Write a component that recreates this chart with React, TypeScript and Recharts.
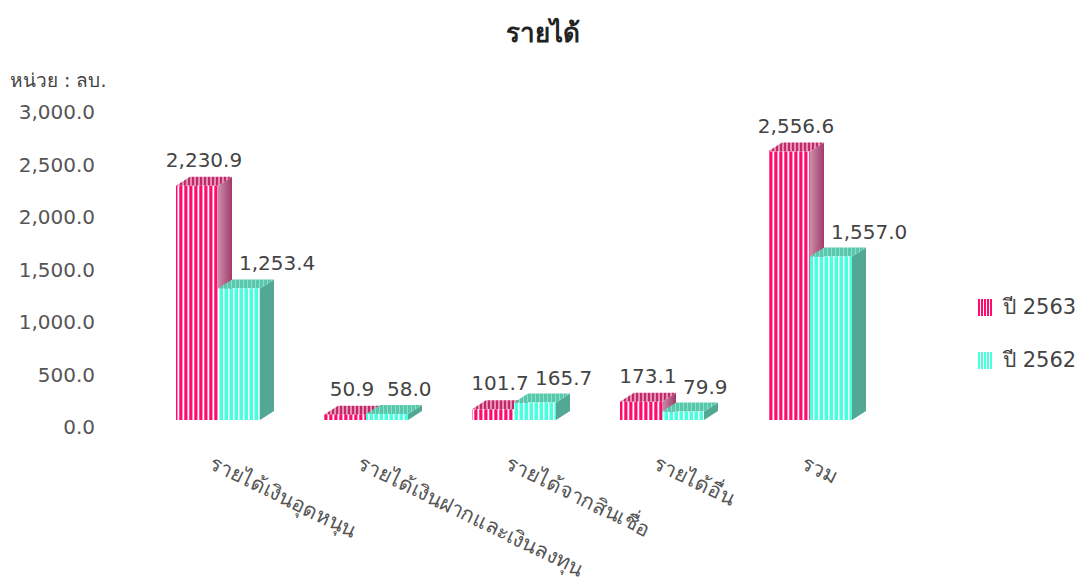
import React from "react";
import { BarChart, Bar, XAxis, YAxis, LabelList } from "recharts";

const categories = [
  "รายได้เงินอุดหนุน",
  "รายได้เงินฝากและเงินลงทุน",
  "รายได้จากสินเชื่อ",
  "รายได้อื่น",
  "รวม",
];
const year2563 = [2230.9, 50.9, 101.7, 173.1, 2556.6];
const year2562 = [1253.4, 58.0, 165.7, 79.9, 1557.0];
const yTicks = [0, 500, 1000, 1500, 2000, 2500, 3000];

const data = categories.map((name, i) => ({
  name,
  y2563: year2563[i],
  y2562: year2562[i],
}));

const FONT = "'DejaVu Sans', Tahoma, Verdana, sans-serif";
const fmt = (v: number) =>
  v.toLocaleString("en-US", { minimumFractionDigits: 1, maximumFractionDigits: 1 });

const DX = 14;
const DY = 9;

function make3D(front: string, top: string, side: string) {
  return (props: any) => {
    const { x, y, width, height } = props;
    return (
      <g>
        <path
          d={`M${x + width},${y} L${x + width + DX},${y - DY} L${x + width + DX},${y + height - DY} L${x + width},${y + height} Z`}
          fill={side}
        />
        <path
          d={`M${x},${y} L${x + DX},${y - DY} L${x + width + DX},${y - DY} L${x + width},${y} Z`}
          fill={top}
        />
        <rect x={x} y={y} width={width} height={height} fill={front} />
      </g>
    );
  };
}

const pinkShape = make3D("url(#pinkFront)", "url(#pinkTop)", "url(#pinkSide)");
const cyanShape = make3D("url(#cyanFront)", "url(#cyanTop)", "#52a894");

const YTick = ({ y, payload }: any) => (
  <text x={95} y={y + 7} textAnchor="end" dominantBaseline="central" fill="#555" fontSize={20} fontFamily={FONT}>
    {fmt(payload.value)}
  </text>
);

const XTick = ({ x, y, payload }: any) => (
  <g transform={`translate(${x - 10},${y + 40})`}>
    <text transform="rotate(26)" textAnchor="start" fill="#555" fontSize={21} fontFamily={FONT}>
      {payload.value}
    </text>
  </g>
);

const pinkLabel = (p: any) => (
  <text x={p.x + p.width / 2 + 7} y={p.y - 19} textAnchor="middle" fill="#444" fontSize={20} fontFamily={FONT}>
    {fmt(p.value)}
  </text>
);
const cyanLabel = (p: any) => (
  <text x={p.x + p.width / 2} y={p.y - 18} textAnchor="start" fill="#444" fontSize={20} fontFamily={FONT}>
    {fmt(p.value)}
  </text>
);

const stripe = (a: string, b: string) =>
  `repeating-linear-gradient(90deg, ${a} 0px, ${a} 2px, ${b} 2px, ${b} 3px)`;

export default function App() {
  return (
    <div style={{ position: "absolute", left: 0, top: 0, width: 1086, height: 581, background: "#fff", fontFamily: FONT }}>
      <div style={{ position: "absolute", left: 0, width: 1086, top: 12, textAlign: "center", fontSize: 26, fontWeight: "bold", color: "#222" }}>
        รายได้
      </div>
      <div style={{ position: "absolute", left: 10, top: 65, fontSize: 19, color: "#444" }}>หน่วย : ลบ.</div>

      <BarChart
        width={1086}
        height={581}
        data={data}
        margin={{ top: 105, right: 202, left: 0, bottom: 131 }}
        barSize={42}
        barGap={0}
      >
        <defs>
          <pattern id="pinkFront" patternUnits="userSpaceOnUse" width="5" height="10">
            <rect x="0" y="0" width="2" height="10" fill="#ff0a6e" />
            <rect x="2" y="0" width="1" height="10" fill="#ff8fbd" />
            <rect x="3" y="0" width="1" height="10" fill="#ffffff" />
            <rect x="4" y="0" width="1" height="10" fill="#ff4d92" />
          </pattern>
          <pattern id="cyanFront" patternUnits="userSpaceOnUse" width="5" height="10">
            <rect x="0" y="0" width="3" height="10" fill="#48ffe0" />
            <rect x="3" y="0" width="1" height="10" fill="#ffffff" />
            <rect x="4" y="0" width="1" height="10" fill="#9ffff0" />
          </pattern>
          <pattern id="pinkTop" patternUnits="userSpaceOnUse" width="4" height="10">
            <rect x="0" y="0" width="2" height="10" fill="#c02a68" />
            <rect x="2" y="0" width="2" height="10" fill="#e58fb3" />
          </pattern>
          <pattern id="cyanTop" patternUnits="userSpaceOnUse" width="4" height="10">
            <rect x="0" y="0" width="3" height="10" fill="#58c8ad" />
            <rect x="3" y="0" width="1" height="10" fill="#8fdcc8" />
          </pattern>
          <linearGradient id="pinkSide" x1="0" y1="0" x2="1" y2="0">
            <stop offset="0%" stopColor="#c98fa9" />
            <stop offset="100%" stopColor="#a2396a" />
          </linearGradient>
        </defs>
        <XAxis dataKey="name" height={30} axisLine={false} tickLine={false} tick={<XTick />} interval={0} />
        <YAxis
          width={144}
          domain={[0, 3000]}
          ticks={yTicks}
          axisLine={false}
          tickLine={false}
          tick={<YTick />}
          interval={0}
        />
        <Bar dataKey="y2563" shape={pinkShape} isAnimationActive={false}>
          <LabelList dataKey="y2563" content={pinkLabel} />
        </Bar>
        <Bar dataKey="y2562" shape={cyanShape} isAnimationActive={false}>
          <LabelList dataKey="y2562" content={cyanLabel} />
        </Bar>
      </BarChart>

      <div style={{ position: "absolute", left: 978, top: 294, fontSize: 21, color: "#444", lineHeight: "26px" }}>
        <div style={{ display: "flex", alignItems: "center", marginBottom: 27 }}>
          <span style={{ display: "inline-block", width: 15, height: 17, background: stripe("#ff0a6e", "#ffffff"), marginRight: 10 }} />
          ปี 2563
        </div>
        <div style={{ display: "flex", alignItems: "center" }}>
          <span style={{ display: "inline-block", width: 15, height: 17, background: stripe("#48ffe0", "#ffffff"), marginRight: 10 }} />
          ปี 2562
        </div>
      </div>
    </div>
  );
}
